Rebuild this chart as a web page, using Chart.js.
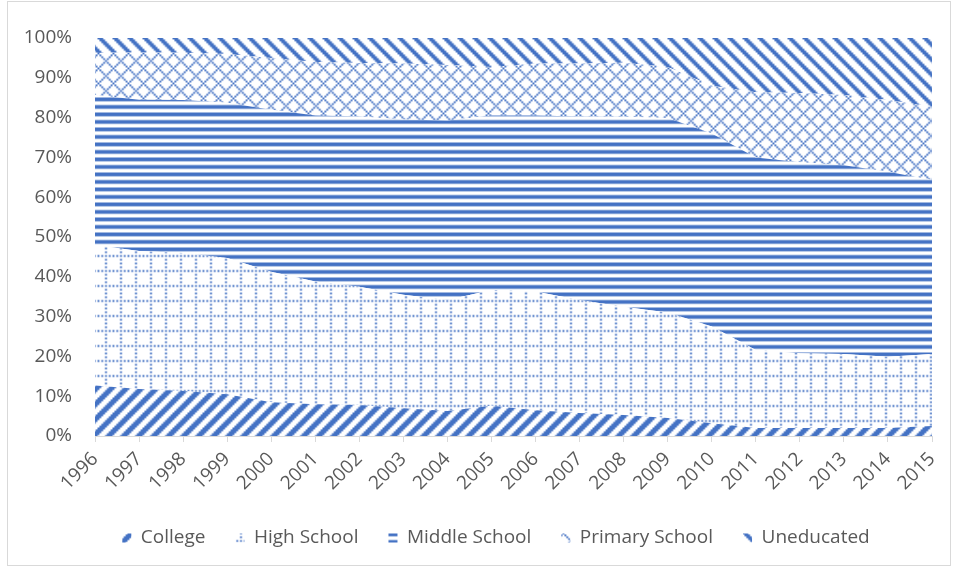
<!DOCTYPE html>
<html>
<head>
<meta charset="utf-8">
<title>Education level share, 1996–2015</title>
<script src="https://cdn.jsdelivr.net/npm/chart.js@4.4.1/dist/chart.umd.min.js"></script>
<style>
  html, body { margin: 0; padding: 0; background: #ffffff; }
  #wrap { position: relative; width: 964px; height: 569px; }
  #wrap canvas { position: absolute; left: 0; top: 0; }
  #frame { position: absolute; left: 7px; top: 1px; width: 942px; height: 563px;
           border: 1px solid #d9d9d9; pointer-events: none; }
</style>
</head>
<body>
<div id="wrap">
  <canvas id="chart" width="964" height="569"></canvas>
  <div id="frame"></div>
</div>
<script>
// Categories
const years = ['1996', '1997', '1998', '1999', '2000', '2001', '2002', '2003', '2004', '2005',
               '2006', '2007', '2008', '2009', '2010', '2011', '2012', '2013', '2014', '2015'];

// Share of each education level per year (percent)
const college       = [12.7, 11.8, 11.3, 10.5, 8.5, 8.0, 7.8, 7.0, 6.3, 7.6,
                       6.5, 5.8, 5.3, 4.5, 3.2, 2.0, 2.0, 2.0, 2.0, 2.5];
const highSchool    = [35.3, 34.7, 34.7, 34.2, 32.8, 30.8, 29.7, 28.5, 27.9, 29.1,
                       29.8, 28.4, 27.2, 26.5, 24.3, 19.6, 18.8, 18.6, 17.9, 18.1];
const middleSchool  = [37.7, 38.0, 38.4, 39.0, 40.7, 41.7, 42.8, 44.0, 45.1, 43.8,
                       44.2, 46.1, 47.7, 48.9, 48.5, 48.4, 48.0, 47.4, 46.5, 43.7];
const primarySchool = [10.5, 12.0, 11.9, 12.3, 13.0, 13.5, 13.4, 14.1, 13.9, 12.2,
                       13.1, 13.3, 13.6, 12.8, 12.0, 16.4, 17.4, 17.7, 18.0, 18.4];
const uneducated    = [3.8, 3.5, 3.7, 4.0, 5.0, 6.0, 6.3, 6.4, 6.8, 7.3,
                       6.4, 6.4, 6.2, 7.3, 12.0, 13.6, 13.8, 14.3, 15.6, 17.3];

const seriesNames = ['College', 'High School', 'Middle School', 'Primary School', 'Uneducated'];

// Y axis ticks
const yTickMin = 0;
const yTickMax = 100;
const yTickStep = 10;

const FONT = { family: "'Open Sans', 'Noto Sans', sans-serif", size: 19 };
const TEXT = '#595959';
const AXIS = '#d9d9d9';

const canvas = document.getElementById('chart');
const ctx = canvas.getContext('2d');

// Build a two-colour 8x8 bitmap fill (blue on white), enlarged like a hatch fill.
function hatch(isOn) {
  const tile = document.createElement('canvas');
  tile.width = 8; tile.height = 8;
  const g = tile.getContext('2d');
  const img = g.createImageData(8, 8);
  for (let y = 0; y < 8; y++) {
    for (let x = 0; x < 8; x++) {
      const i = (y * 8 + x) * 4;
      const on = isOn(x, y);
      img.data[i]     = on ? 68 : 255;
      img.data[i + 1] = on ? 114 : 255;
      img.data[i + 2] = on ? 196 : 255;
      img.data[i + 3] = 255;
    }
  }
  g.putImageData(img, 0, 0);
  const pat = ctx.createPattern(tile, 'repeat');
  pat.setTransform(new DOMMatrix().scale(1.875));
  return pat;
}

const fills = [
  hatch((x, y) => (x + y) % 8 < 4),                                      // wide upward diagonal
  hatch((x, y) => (y === 0 && x % 2 === 0) || (x === 0 && y % 2 === 0)), // dotted grid
  hatch((x, y) => y % 4 < 2),                                            // dark horizontal
  hatch((x, y) => (x - y + 8) % 8 === 0 || (x + y) % 8 === 0),           // outlined diamond
  hatch((x, y) => (x - y + 8) % 8 < 3)                                   // wide downward diagonal
];

const values = [college, highSchool, middleSchool, primarySchool, uneducated];

const datasets = values.map((v, i) => ({
  label: seriesNames[i],
  data: v,
  backgroundColor: fills[i],
  borderColor: 'rgba(0,0,0,0)',
  borderWidth: 0,
  pointRadius: 0,
  tension: 0,
  fill: i === 0 ? 'origin' : '-1'
}));

// Centre the legend under the plot area rather than the whole canvas.
const legendShift = {
  id: 'legendShift',
  afterLayout(chart) {
    if (chart.legend) { chart.legend.left += 60; }
  }
};

new Chart(ctx, {
  type: 'line',
  data: { labels: years, datasets },
  plugins: [legendShift],
  options: {
    responsive: false,
    animation: false,
    layout: { padding: { left: 0, right: 32, top: 38, bottom: 11.5 } },
    plugins: {
      legend: {
        position: 'bottom',
        labels: {
          boxWidth: 9,
          boxHeight: 9,
          padding: 30,
          color: TEXT,
          font: FONT
        }
      },
      tooltip: { enabled: false }
    },
    scales: {
      x: {
        offset: false,
        grid: { drawOnChartArea: false, drawTicks: true, tickLength: 6, color: AXIS },
        border: { color: AXIS },
        ticks: { autoSkip: false, maxRotation: 45, minRotation: 45, padding: 6, color: TEXT, font: FONT },
        afterFit: (s) => { s.height = 62.5; }
      },
      y: {
        stacked: true,
        min: yTickMin,
        max: yTickMax,
        grid: { display: false, drawTicks: false },
        border: { display: false },
        ticks: {
          stepSize: yTickStep,
          padding: 23,
          color: TEXT,
          font: FONT,
          callback: (v) => v + '%'
        },
        afterFit: (s) => { s.width = 95; }
      }
    }
  }
});
</script>
</body>
</html>
